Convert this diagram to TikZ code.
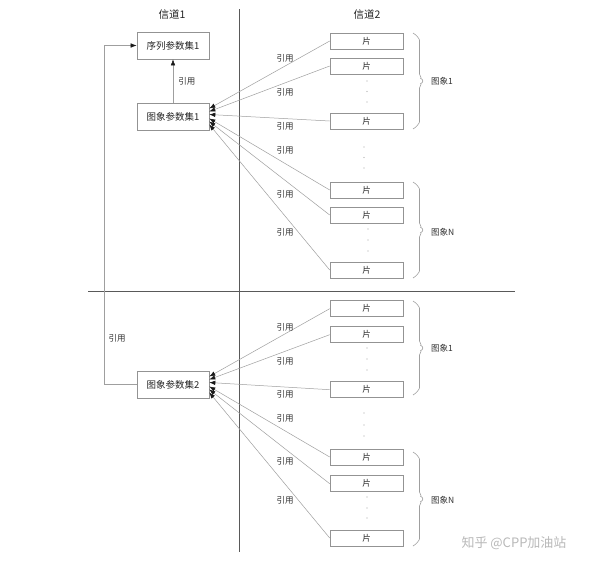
\documentclass[tikz,border=0pt]{standalone}
\usepackage{fontspec}
\setmainfont{Noto Sans CJK SC}
\usetikzlibrary{arrows.meta,decorations.pathreplacing,calc}
\begin{document}
\begin{tikzpicture}[x=1pt,y=-1pt,
  box/.style={draw=gray!85, line width=0.6pt, minimum width=72pt, minimum height=27pt, inner sep=0pt, font=\fontsize{9.5}{10}\selectfont, text=black!85},
  slice/.style={draw=gray!85, line width=0.6pt, minimum width=73pt, minimum height=16pt, inner sep=0pt, font=\fontsize{8.5}{9}\selectfont, text=black!85},
  ref/.style={-{Latex[length=6pt,width=4.5pt,color=black!90]}, draw=gray!75, line width=0.5pt},
  lbl/.style={font=\fontsize{8.5}{9}\selectfont, text=black!80, inner sep=0pt},
  ttl/.style={font=\fontsize{10.5}{11}\selectfont, text=black!85, inner sep=0pt},
  grp/.style={decorate, decoration={brace, amplitude=13pt, aspect=0.5}, draw=gray!75, line width=0.6pt, rounded corners=6pt},
  sep/.style={draw=black!65, line width=0.6pt},
  pt/.style={fill=gray!70}
]
\useasboundingbox[fill=white] (0,0) rectangle (600,568);

% separators
\draw[sep] (239,9) -- (239,552);
\draw[sep] (88,291) -- (515,291);

% titles
\node[ttl] (t1) at (172,15) {信道1};
\node[ttl] (t2) at (367,15) {信道2};

% parameter sets
\node[box] (sps1) at (173,45.5) {序列参数集1};
\node[box] (pps1) at (173,116.5) {图象参数集1};
\node[box] (pps2) at (173,384.5) {图象参数集2};

\draw[ref] (pps1.north) -- (sps1.south) node[lbl, midway, right=5pt] {引用};
\coordinate (lp) at (104,0);
\draw[ref] (pps2.west) -- (pps2.west -| lp) -- (sps1.west -| lp) -- (sps1.west);
\node[lbl] (lref) at (117,338) {引用};

% slices
\foreach \n/\y in {1/41,2/66,3/121,4/190,5/215,6/270}
  \node[slice] (a\n) at (366.5,\y) {片};
\foreach \n/\y in {1/308.7,2/334.7,3/389.7,4/457,5/483.7,6/538}
  \node[slice] (b\n) at (366.5,\y) {片};

% arrows
\foreach \n/\d in {1/-8,2/-5,3/-2,4/2,5/5,6/8}{
  \draw[ref] (a\n.west) -- ($(pps1.east)+(0,\d)$);
  \draw[ref] (b\n.west) -- ($(pps2.east)+(0,\d)$);
}

% labels
\foreach \y in {58,92.5,126.5,150.5,194,232}
  \node[lbl] at (285,\y) {引用};
\foreach \y in {327.7,361,394,418,461.7,500}
  \node[lbl] at (285,\y) {引用};

% dots
\foreach \x/\y in {367/81,367/91.5,367/102,364/147,364/157.5,364/168,368/229,368/240,368/251,
                   367/348,367/359,367/370,364/413,364/425,364/436,367/497,367/508,367/518}
  \fill[pt] (\x,\y) circle (0.55);

% braces
\draw[grp] (413,33) -- (413,129);
\node[lbl, anchor=west] (g1) at (431,81) {图象1};
\draw[grp] (413,182) -- (413,278);
\node[lbl, anchor=west] (g2) at (431,232) {图象N};
\draw[grp] (413,301) -- (413,395);
\node[lbl, anchor=west] (g3) at (431,348) {图象1};
\draw[grp] (413,452) -- (413,546);
\node[lbl, anchor=west] (g4) at (431,500) {图象N};

% watermark
\node[font=\fontsize{13}{13}\selectfont, text=gray!55, inner sep=0pt] (wm) at (514,543) {知乎 @CPP加油站};
\end{tikzpicture}
\end{document}
